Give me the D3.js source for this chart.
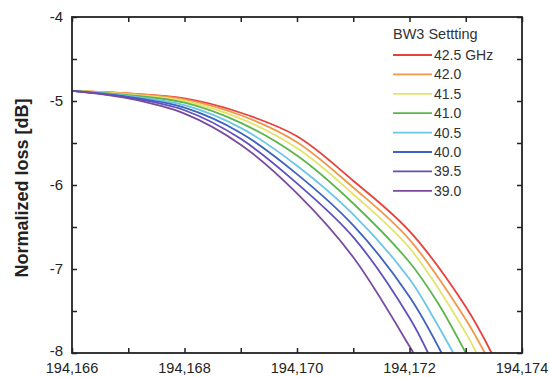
<!DOCTYPE html>
<html>
<head>
<meta charset="utf-8">
<script src="https://cdn.jsdelivr.net/npm/d3@7"></script>
<style>
  body { margin: 0; background: #fff; }
  svg { font-family: Arial, "Liberation Sans", sans-serif; }
</style>
</head>
<body>
<svg width="550" height="377"></svg>
<script>
// frequency offsets are read against 194,166 GHz
const base = 194166;

const settings = ['42.5 GHz', '42.0', '41.5', '41.0', '40.5', '40.0', '39.5', '39.0'];
const colors = ['#e8413c', '#f2974a', '#e4e36a', '#5db54e', '#6cc6e6', '#3d62c2', '#5f51c0', '#7b4a9e'];

const xs_red    = [0, 1, 2, 3, 4, 5, 6, 7, 7.46];
const ys_red    = [-4.88, -4.91, -4.97, -5.14, -5.42, -5.95, -6.55, -7.45, -8.0];
const xs_orange = [0, 1, 2, 3, 4, 5, 6, 7, 7.34];
const ys_orange = [-4.88, -4.91, -4.98, -5.17, -5.49, -6.03, -6.65, -7.6, -8.0];
const xs_yellow = [0, 1, 2, 3, 4, 5, 6, 7, 7.19];
const ys_yellow = [-4.88, -4.92, -5.0, -5.21, -5.56, -6.11, -6.75, -7.76, -8.0];
const xs_green  = [0, 1, 2, 3, 4, 5, 6, 6.5, 7.0];
const ys_green  = [-4.88, -4.93, -5.02, -5.26, -5.65, -6.22, -6.92, -7.4, -8.0];
const xs_cyan   = [0, 1, 2, 3, 4, 5, 6, 6.4, 6.78];
const ys_cyan   = [-4.88, -4.94, -5.05, -5.32, -5.77, -6.35, -7.12, -7.55, -8.0];
const xs_blue   = [0, 1, 2, 3, 4, 5, 6, 6.57];
const ys_blue   = [-4.88, -4.95, -5.08, -5.38, -5.87, -6.48, -7.33, -8.0];
const xs_indigo = [0, 1, 2, 3, 4, 5, 6, 6.33];
const ys_indigo = [-4.88, -4.96, -5.11, -5.45, -5.98, -6.62, -7.58, -8.0];
const xs_purple = [0, 1, 2, 3, 4, 5, 6, 6.07];
const ys_purple = [-4.88, -4.97, -5.15, -5.52, -6.1, -6.86, -7.92, -8.0];

const xTicks = [194166, 194168, 194170, 194172, 194174];
const yTicks = [-8, -7, -6, -5, -4];

const allX = [xs_red, xs_orange, xs_yellow, xs_green, xs_cyan, xs_blue, xs_indigo, xs_purple];
const allY = [ys_red, ys_orange, ys_yellow, ys_green, ys_cyan, ys_blue, ys_indigo, ys_purple];

const series = settings.map((s, i) => ({
  name: s,
  color: colors[i],
  points: allX[i].map((x, j) => ({x: base + x, y: allY[i][j]}))
}));

const plotL = 72, plotR = 522, plotT = 17, plotB = 353;

const x = d3.scaleLinear().domain([194166, 194174]).range([plotL, plotR]);
const y = d3.scaleLinear().domain([-8, -4]).range([plotB, plotT]);

const svg = d3.select('svg');

svg.append('clipPath').attr('id', 'plot')
  .append('rect')
  .attr('x', plotL).attr('y', plotT)
  .attr('width', plotR - plotL).attr('height', plotB - plotT);

const line = d3.line()
  .x(d => x(d.x))
  .y(d => y(d.y))
  .curve(d3.curveCatmullRom.alpha(0.5));

svg.append('g')
  .attr('clip-path', 'url(#plot)')
  .selectAll('path')
  .data(series)
  .enter()
  .append('path')
  .attr('d', d => line(d.points))
  .attr('fill', 'none')
  .attr('stroke', d => d.color)
  .attr('stroke-width', 1.8);

// axes: ticks point inward on all four sides
const minorX = d3.range(194166, 194174.01, 1);
const minorY = d3.range(-8, -3.99, 0.5);

svg.append('g')
  .attr('transform', `translate(0,${plotB})`)
  .call(d3.axisBottom(x).tickValues(minorX).tickSize(-5).tickFormat(''))
  .call(g => g.select('.domain').remove());
svg.append('g')
  .attr('transform', `translate(0,${plotT})`)
  .call(d3.axisTop(x).tickValues(minorX).tickSize(-5).tickFormat(''))
  .call(g => g.select('.domain').remove());
svg.append('g')
  .attr('transform', `translate(${plotL},0)`)
  .call(d3.axisLeft(y).tickValues(minorY).tickSize(-5).tickFormat(''))
  .call(g => g.select('.domain').remove());
svg.append('g')
  .attr('transform', `translate(${plotR},0)`)
  .call(d3.axisRight(y).tickValues(minorY).tickSize(-5).tickFormat(''))
  .call(g => g.select('.domain').remove());

svg.selectAll('.tick line').attr('stroke', '#222').attr('stroke-width', 1.5);

svg.append('rect')
  .attr('x', plotL).attr('y', plotT)
  .attr('width', plotR - plotL).attr('height', plotB - plotT)
  .attr('fill', 'none')
  .attr('stroke', '#222')
  .attr('stroke-width', 1.8);

const fmt = d3.format(',');

svg.append('g').selectAll('text')
  .data(xTicks)
  .enter()
  .append('text')
  .attr('x', d => x(d))
  .attr('y', 373)
  .attr('text-anchor', 'middle')
  .style('font-size', '14.5px')
  .style('fill', '#222')
  .text(d => fmt(d));

svg.append('g').selectAll('text')
  .data(yTicks)
  .enter()
  .append('text')
  .attr('x', 63)
  .attr('y', d => y(d) + (d === -8 ? 3 : 5))
  .attr('text-anchor', 'end')
  .style('font-size', '15px')
  .style('fill', '#222')
  .text(d => d);

svg.append('text')
  .attr('transform', 'translate(28,188) rotate(-90)')
  .attr('text-anchor', 'middle')
  .style('font-size', '18px')
  .style('font-weight', 'bold')
  .style('fill', '#222')
  .text('Normalized loss [dB]');

// legend
const legend = svg.append('g');
legend.append('text')
  .attr('x', 393)
  .attr('y', 39)
  .style('font-size', '14.5px')
  .style('fill', '#333')
  .text('BW3 Settting');

const rows = legend.selectAll('.row')
  .data(series)
  .enter()
  .append('g')
  .attr('transform', (d, i) => `translate(0,${55 + i * 19.4})`);

rows.append('line')
  .attr('x1', 393).attr('x2', 432)
  .attr('y1', 0).attr('y2', 0)
  .attr('stroke', d => d.color)
  .attr('stroke-width', 1.8);

rows.append('text')
  .attr('x', 434)
  .attr('y', 5)
  .style('font-size', '14px')
  .style('fill', '#333')
  .text(d => d.name);
</script>
</body>
</html>
